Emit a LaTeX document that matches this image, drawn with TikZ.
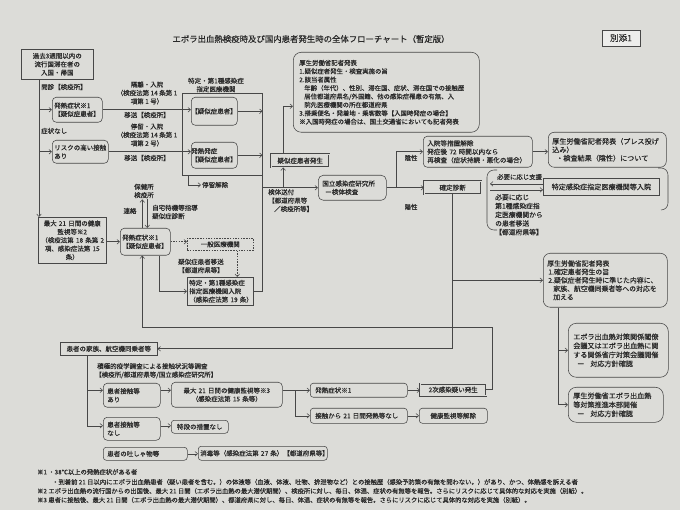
\documentclass[tikz,border=0pt]{standalone}
\usepackage{fontspec}
\setmainfont{Noto Sans CJK JP}[FakeBold=0.35]
\usetikzlibrary{arrows.meta,calc}
\definecolor{bgc}{HTML}{DCDCD8}
\definecolor{lc}{HTML}{474747}
\definecolor{tc}{HTML}{2A2A2A}
\newcommand\myfs[1]{\fontsize{#1}{8.4}\selectfont}
\begin{document}
\begin{tikzpicture}[x=1pt,y=-1pt,
  every node/.style={text=tc, font=\myfs{6.5}, inner sep=1pt},
  ln/.style={draw=lc, line width=0.55pt},
  arr/.style={ln, -{Straight Barb[length=2.6pt,width=4.6pt]}},
  darr/.style={arr, dash pattern=on 1.5pt off 1.2pt},
  rb/.style={draw=lc, line width=0.55pt, rounded corners=4pt, anchor=north west, align=left, inner xsep=4pt, inner ysep=1pt},
  sb/.style={rb, sharp corners},
  db/.style={draw=lc, line width=0.45pt, double=bgc, double distance=1.1pt, anchor=north west, align=center, inner sep=1pt},
  fn/.style={anchor=west, font=\myfs{6.3}},
]
\fill[bgc] (0,0) rectangle (680,510);
\useasboundingbox (0,0) rectangle (680,510);

% title
\node[font=\fontsize{8.4}{10}\selectfont] (title) at (311,39) {エボラ出血熱検疫時及び国内患者発生時の全体フローチャート（暫定版）};
\node[draw=lc, line width=0.6pt, fill=bgc!50!white, font=\fontsize{8.5}{10}\selectfont, minimum width=38pt, minimum height=16pt] (att) at (621,38) {別添1};

% left column
\node[sb, align=center, text width=64pt, minimum height=30pt] (entry) at (21,49) {過去3週間以内の\\流行国滞在者の\\入国・帰国};
\node[anchor=west] (q1) at (40,87) {問診【検疫所】};
\node[rb, text width=46pt, inner xsep=2pt, minimum height=25pt] (fever1) at (52,97) {発熱症状※1\\【疑似症患者】};
\node[anchor=west] (q2) at (40,131) {症状なし};
\node[rb, text width=52pt, inner xsep=2pt, minimum height=23pt] (risk) at (52,140) {リスクの高い接触\\あり};
\node[sb, align=center, text width=62pt, inner xsep=3pt, minimum height=46pt] (health2) at (38,217) {最大~21~日間の健康\\監視等※2\\（検疫法第~18~条第~2\\項、感染症法第~15\\条）};

\node[align=center] (lab1) at (147,93) {隔離・入院\\（検疫法第 14 条第 1\\項第 1 号）};
\node (lab1b) at (147,115) {移送【検疫所】};
\node[align=center] (lab2) at (147,135) {停留・入院\\（検疫法第 14 条第 1\\項第 2 号）};
\node (lab2b) at (147,158) {移送【検疫所】};

\node[sb, minimum width=80pt, minimum height=82pt] (frame) at (182,93) {};
\node[align=center] (flab) at (216,85) {特定・第1種感染症\\指定医療機関};
\node[rb, text width=46pt, inner xsep=0pt, minimum height=28pt] (sus1) at (191,97) {【疑似症患者】};
\node[rb, text width=46pt, inner xsep=0pt, minimum height=26pt] (sus2) at (191,142) {発熱発症\\【疑似症患者】};
\node[anchor=west] (stop) at (201,185) {停留解除};

\node[align=center] (hc) at (144,191) {保健所\\検疫所};
\node (renr) at (130,211) {連絡};
\node[align=left, anchor=west] (home) at (151,212) {自宅待機等指導\\疑似症診断};
\node[rb, text width=46pt, inner xsep=2pt, minimum height=27pt] (fever2) at (120,228) {発熱症状※1\\【疑似症患者】};
\node[sb, dash pattern=on 1.5pt off 1.2pt, align=center, text width=58pt, minimum height=12pt] (gen) at (187,238) {一般医療機関};
\node[anchor=west, align=left] (mv) at (177,266) {疑似症患者移送\\【都道府県等】};
\node[sb, align=left, text width=62pt, inner xsep=2pt, minimum height=28pt] (hosp) at (187,277) {特定・第1種感染症\\指定医療機関入院\\（感染症法第~19~条）};

% center
\node[rb, text width=174pt, inner xsep=6pt, minimum height=80pt, rounded corners=8pt, font=\myfs{6.4}] (press1) at (293,52) {厚生労働省記者発表\\1.疑似症者発生・検査実施の旨\\2.該当者属性\\\hspace*{5pt}年齢（年代）、性別、滞在国、症状、滞在国での接触歴\\\hspace*{5pt}居住都道府県名/外国籍、他の感染症罹患の有無、入\\\hspace*{5pt}院先医療機関の所在都道府県\\3.搭乗便名・発着地・乗客数等【入国時発症の場合】\\※入国時発症の場合は、国土交通省においても記者発表};
\node[db, minimum width=58pt, minimum height=13pt] (sog) at (271,154) {疑似症患者発生};
\node[rb, text width=60pt, minimum height=25pt, font=\myfs{6.6}, rounded corners=5pt] (nih) at (318,175) {国立感染症研究所\\\hspace*{3pt}ー検体検査};
\node[anchor=north west, align=left] (spl) at (267,188) {検体送付\\【都道府県等\\\hspace*{6pt}／検疫所等】};
\node[db, minimum width=57pt, minimum height=13pt, font=\myfs{6.6}] (cd) at (424,181) {確定診断};
\node[rb, text width=101pt, minimum height=31pt, font=\myfs{6.6}] (neg) at (423,136) {入院等措置解除\\発症後~72~時間以内なら\\再検査（症状持続・悪化の場合）};
\node (negl) at (411,158) {陰性};
\node (posl) at (411,207) {陽性};

% right column
\node[rb, text width=110pt, minimum height=35pt, font=\myfs{7.1}, rounded corners=6pt] (pressN) at (548,132) {厚生労働省記者発表（プレス投げ\\込み）\\\hspace*{4pt}・検査結果（陰性）について};
\draw[ln, rounded corners=7pt] (497,170) -- (487,170) -- (487,230) -- (497,230);
\draw[ln, rounded corners=7pt] (658,168) -- (668,168) -- (668,210) -- (661,210);
\node[sb, align=center, text width=108pt, minimum height=17pt, font=\myfs{7.1}, line width=0.8pt] (spec) at (543,178) {特定感染症指定医療機関等入院};
\coordinate (brk) at (490,187);
\node[anchor=west, font=\myfs{6.4}] (need1) at (496,177) {必要に応じ支援};
\node[anchor=north west, align=left, font=\fontsize{6.8}{8.7}\selectfont] (need2) at (494,193) {必要に応じ\\第1種感染症指\\定医療機関から\\の患者移送\\【都道府県等】};
\node[rb, text width=116pt, minimum height=54pt, font=\myfs{6.9}, rounded corners=7pt] (press2) at (543,253) {厚生労働省記者発表\\\hspace*{1pt}1.確定患者発生の旨\\\hspace*{1pt}2.疑似症者発生時に準じた内容に、\\\hspace*{6pt}家族、航空機同乗者等への対応を\\\hspace*{6pt}加える};
\node[rb, text width=90pt, inner xsep=5pt, minimum height=54pt, font=\fontsize{7.1}{9}\selectfont, rounded corners=8pt] (meet) at (568,323) {エボラ出血熱対策関係閣僚\\会議又はエボラ出血熱に関\\する関係省庁対策会議開催\\\hspace*{4pt}ー\hspace{6pt}対応方針確認};
\node[rb, text width=85pt, inner xsep=5pt, minimum height=35pt, font=\fontsize{7.1}{9}\selectfont, rounded corners=8pt] (hq) at (568,387) {厚生労働省エボラ出血熱\\等対策推進本部開催\\\hspace*{4pt}ー\hspace{6pt}対応方針確認};

% lower part
\node[sb, align=center, text width=89pt, minimum height=13pt] (fam) at (60,342) {患者の家族、航空機同乗者等};
\node[anchor=north west, align=left] (surv) at (94,362) {\hspace*{2pt}積極的疫学調査による接触状況等調査\\【検疫所/都道府県等/国立感染症研究所】};
\node[rb, text width=49pt, minimum height=24pt] (cyes) at (103,383) {患者接触等\\あり};
\node[rb, text width=49pt, minimum height=23pt] (cno) at (103,417) {患者接触等\\なし};
\node[rb, align=center, text width=103pt, minimum height=25pt] (mon21) at (171,382) {最大~21~日間の健康監視等※3\\（感染症法第~15~条等）};
\node[rb, align=center, text width=51pt, inner xsep=3pt, minimum height=13pt, rounded corners=3pt] (nor) at (171,420) {特段の措置なし};
\node[rb, text width=87pt, inner xsep=5pt, minimum height=14pt, rounded corners=3pt] (fev3) at (310,383) {発熱症状※1};
\node[rb, text width=87pt, inner xsep=5pt, minimum height=15pt, rounded corners=3pt] (nof) at (310,408) {接触から~21~日間発熱等なし};
\node[db, minimum width=66pt, minimum height=12pt] (sec) at (420,383.5) {2次感染疑い発生};
\node[rb, align=center, text width=60pt, minimum height=15pt, rounded corners=3pt] (rel) at (419,408) {健康監視等解除};
\node[rb, text width=76pt, minimum height=13pt, rounded corners=3pt] (vom) at (103,447) {患者の吐しゃ物等};
\node[rb, text width=125pt, inner xsep=2pt, minimum height=14pt, rounded corners=3pt] (dis) at (198,446) {消毒等（感染症法第~27~条）【都道府県等】};

% footnotes
\node[fn] (fn1) at (36,472) {※1 ・38℃以上の発熱症状がある者};
\node[fn] (fn1b) at (51,482) {・到着前 21 日以内にエボラ出血熱患者（疑い患者を含む。）の体液等（血液、体液、吐物、排泄物など）との接触歴（感染予防策の有無を問わない。）があり、かつ、体熱感を訴える者};
\node[fn] (fn2) at (36,491) {※2 エボラ出血熱の流行国からの出国後、最大 21 日間（エボラ出血熱の最大潜伏期間）、検疫所に対し、毎日、体温、症状の有無等を報告。さらにリスクに応じて具体的な対応を実施（別紙）。};
\node[fn] (fn3) at (36,500) {※3 患者に接触後、最大 21 日間（エボラ出血熱の最大潜伏期間）、都道府県に対し、毎日、体温、症状の有無等を報告。さらにリスクに応じて具体的な対応を実施（別紙）。};

% connectors
\coordinate (v0) at ([xshift=18pt]entry.south west);
\draw[arr] (v0) -- (v0 |- health2.north);
\draw[arr] (v0 |- fever1.west) -- (fever1.west);
\draw[arr] (v0 |- risk.west) -- (risk.west);
\draw[arr] (fever1.east) -- (fever1.east -| sus1.west);
\draw[arr] (risk.east) -- (risk.east -| sus2.west);
\draw[arr] (sus1.east) -- (sus1.east -| frame.east);
\draw[arr] (sus2.east) -- (sus2.east -| frame.east);
\draw[arr] ([xshift=6pt]frame.south west) |- (stop.west);
\draw[ln] (hosp.east) -| (frame.south east);
\draw[arr] (nih.west -| frame.east) -- (nih.west);
\draw[arr] ([xshift=-17pt]sog.south |- nih.west) -- ([xshift=-17pt]sog.south);
\draw[arr] ([xshift=-17pt]sog.north) |- ([yshift=-14pt]press1.west);
\draw[arr] ([xshift=-3pt]fever2.north) -- ([xshift=-3pt]fever2.north |- hc.south);
\draw[arr] ([xshift=2pt]fever2.north |- hc.south) -- ([xshift=2pt]fever2.north);
\draw[arr] (fever2.west -| health2.east) -- (fever2.west);
\draw[darr] (fever2.east) -- (fever2.east -| gen.west);
\draw[darr] ([xshift=17pt]gen.south) -- ([xshift=17pt]gen.south |- hosp.north);
\draw[arr] ([xshift=14pt]fever2.south) |- (hosp.west);
\draw[arr] (nih.east) -- (nih.east -| cd.west);
\draw[arr] ([xshift=10pt]nih.east) |- (neg.west);
\draw[arr] (neg.east) -- (neg.east -| pressN.west);
\draw[arr] ([yshift=3pt]spec.west) -- ([yshift=3pt]spec.west -| brk);
\draw[arr] ([yshift=-3pt]spec.west -| brk) -- ([yshift=-3pt]spec.west);
\draw[arr] (cd.south) |- (fam.east);
\draw[arr] (cd.south |- press2.west) -- (press2.west);
\coordinate (pv) at ([xshift=15pt]press2.south west);
\draw[arr] (pv) |- (meet.west);
\draw[arr] (pv) |- (hq.west);
\coordinate (fv) at ([xshift=27pt]fam.south west);
\draw[arr] (fv) |- ([yshift=5pt]cyes.west);
\draw[arr] (fv) |- ([yshift=3pt]cno.west);
\draw[arr] ([yshift=5pt]cyes.east) -- ([yshift=5pt]cyes.east -| mon21.west);
\draw[arr] ([yshift=3pt]cno.east) -- ([yshift=3pt]cno.east -| nor.west);
\draw[arr] (fev3.west -| mon21.east) -- (fev3.west);
\draw[arr] ([xshift=13pt]mon21.east |- fev3.west) |- (nof.west);
\draw[arr] (fev3.east) -- (fev3.east -| sec.west);
\draw[arr] (nof.east) -- (nof.east -| rel.west);
\coordinate (lp) at (492,327);
\draw[arr] (sec.east) -| (lp) -| ([xshift=-3pt]fever2.south);
\draw[arr] (vom.east) -- (vom.east -| dis.west);
\end{tikzpicture}
\end{document}
